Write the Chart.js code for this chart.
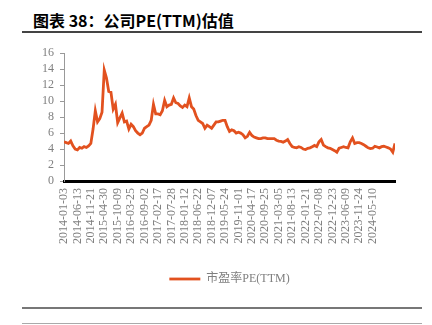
<!DOCTYPE html>
<html>
<head>
<meta charset="utf-8">
<script src="https://cdn.jsdelivr.net/npm/chart.js@4"></script>
<style>
  body { margin: 0; width: 432px; height: 325px; background: #fff; position: relative; overflow: hidden; }
  #title { position: absolute; left: 33px; top: 11px; font: bold 16px "Noto Sans CJK SC", sans-serif; line-height: 18px; color: #000; white-space: nowrap; }
  .rule { position: absolute; left: 22px; width: 400px; }
  #box { position: absolute; left: 0; top: 40px; width: 432px; height: 255px; }
  #warm { position: absolute; left: -999px; font-family: "Liberation Serif"; }
</style>
</head>
<body>
<div id="title">图表 38：公司PE(TTM)估值</div>
<div class="rule" style="top:31px;height:2px;background:#444;"></div>
<div id="box"><canvas id="peChart"></canvas></div>
<div class="rule" style="top:307px;height:2px;background:#777;"></div>
<div class="rule" style="top:323px;height:1px;background:#aaa;"></div>
<div id="warm">2014-01-03 PE(TTM)</div>
<script>
// tick labels, one every 6 points of the series
const dateLabels = [
  "2014-01-03", "2014-06-13", "2014-11-21", "2015-04-30", "2015-10-09",
  "2016-03-25", "2016-09-02", "2017-02-17", "2017-07-28", "2018-01-12",
  "2018-06-22", "2018-12-07", "2019-05-24", "2019-11-01", "2020-04-17",
  "2020-09-25", "2021-03-05", "2021-08-13", "2022-01-21", "2022-07-08",
  "2022-12-23", "2023-06-09", "2023-11-24", "2024-05-10"
];
const pointsPerLabel = 6;

// 市盈率PE(TTM)
const peValues = [
  4.9, 4.8, 4.7, 5.0, 4.4, 4.0, 3.9, 4.2, 4.1, 4.3,
  4.2, 4.4, 4.7, 6.5, 8.8, 7.4, 7.8, 8.6, 13.9, 12.9,
  11.2, 11.1, 9.0, 9.6, 7.3, 7.9, 8.5, 7.4, 7.5, 6.5,
  7.1, 6.8, 6.3, 6.0, 5.8, 6.0, 6.6, 6.8, 7.0, 7.6,
  9.6, 8.4, 8.4, 8.3, 8.8, 10.1, 9.3, 9.5, 9.6, 10.4,
  9.8, 9.7, 9.4, 9.2, 9.5, 9.3, 10.4, 9.3, 9.0, 8.2,
  7.6, 7.4, 7.2, 6.6, 7.0, 6.8, 6.6, 7.0, 7.4, 7.4,
  7.5, 7.6, 7.6, 6.8, 6.2, 6.4, 6.3, 6.0, 6.1, 6.0,
  5.8, 5.4, 5.6, 6.1, 5.7, 5.5, 5.4, 5.3, 5.3, 5.4,
  5.4, 5.3, 5.3, 5.3, 5.3, 5.1, 5.0, 4.95, 4.85, 5.0,
  5.2, 4.7, 4.3, 4.2, 4.15, 4.3, 4.2, 4.0, 3.95, 4.1,
  4.15, 4.3, 4.45, 4.3, 4.9, 5.2, 4.5, 4.3, 4.15, 4.1,
  3.95, 3.8, 3.6, 4.1, 4.2, 4.3, 4.2, 4.15, 4.9, 5.4,
  4.7, 4.8, 4.8, 4.7, 4.55, 4.35, 4.15, 4.05, 4.1, 4.35,
  4.25, 4.15, 4.3, 4.35, 4.25, 4.15, 4.0, 3.6, 4.7
];

const serif = '"Liberation Serif", "Noto Sans CJK SC", serif';

function drawChart() {
  const ctx = document.getElementById("peChart").getContext("2d");
  new Chart(ctx, {
    type: "line",
    data: {
      datasets: [
        {
          label: "市盈率PE(TTM)",
          data: peValues.map((v, i) => ({ x: i, y: v })),
          borderColor: "#e2511f",
          backgroundColor: "#e2511f",
          borderWidth: 2.8,
          pointRadius: 0,
          tension: 0,
        },
      ],
    },
    options: {
      responsive: true,
      maintainAspectRatio: false,
      animation: false,
      layout: { padding: { top: 11, left: 0, right: 37, bottom: 0 } },
      plugins: {
        legend: {
          position: "bottom",
          fullSize: false,
          labels: {
            usePointStyle: true,
            pointStyle: "line",
            pointStyleWidth: 31,
            color: "#7f7f7f",
            font: { family: serif, size: 12 },
          },
        },
        tooltip: { enabled: false },
      },
      scales: {
        x: {
          type: "linear",
          min: 0,
          max: peValues.length - 1,
          afterBuildTicks: (scale) => {
            scale.ticks = dateLabels.map((_, i) => ({ value: i * pointsPerLabel }));
          },
          afterFit: (scale) => {
            scale.height = 82;
          },
          ticks: {
            autoSkip: false,
            minRotation: 90,
            maxRotation: 90,
            padding: 7,
            color: "#7f7f7f",
            font: { family: serif, size: 12 },
            callback: (v) => dateLabels[v / pointsPerLabel],
          },
          grid: { display: false, drawTicks: false },
          border: { display: true, color: "#000", width: 3 },
        },
        y: {
          min: 0,
          max: 16,
          afterFit: (scale) => {
            scale.width = 64;
          },
          ticks: {
            stepSize: 2,
            autoSkip: false,
            padding: 6,
            color: "#7f7f7f",
            font: { family: serif, size: 12 },
          },
          grid: { drawOnChartArea: false, drawTicks: true, tickLength: 4, color: "#999" },
          border: { display: true, color: "#999", width: 1 },
        },
      },
    },
  });
}

document.fonts.load('12px "Liberation Serif"').then(drawChart, drawChart);
</script>
</body>
</html>
